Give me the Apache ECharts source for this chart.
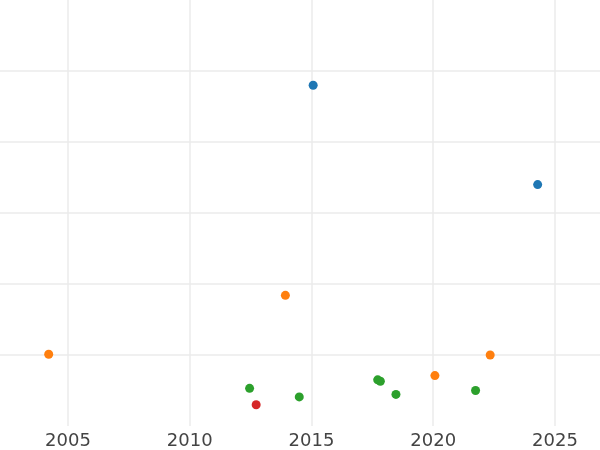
<!DOCTYPE html>
<html>
<head>
<meta charset="utf-8">
<script src="https://cdn.jsdelivr.net/npm/echarts@6/dist/echarts.min.js"></script>
<style>html,body{margin:0;padding:0;background:#fff}#c{width:600px;height:450px}</style>
</head>
<body>
<div id="c"></div>
<script>
// Data: [year, value]
const blueX = [2015.07, 2024.29];
const blueY = [4.80, 3.40];
const orangeX = [2004.21, 2013.93, 2020.07, 2022.34];
const orangeY = [1.01, 1.84, 0.71, 1.00];
const greenX = [2012.46, 2014.50, 2017.72, 2017.83, 2018.47, 2021.74];
const greenY = [0.53, 0.41, 0.65, 0.63, 0.445, 0.50];
const redX = [2012.73];
const redY = [0.30];
const colors = ['#1f77b4', '#ff7f0e', '#2ca02c', '#d62728'];

function pairs(xs, ys) { return xs.map((x, i) => [x, ys[i]]); }

const chart = echarts.init(document.getElementById('c'), null, {renderer: 'canvas'});
const gridLine = {show: true, lineStyle: {color: '#ebebeb', width: 1.5}, showMinLine: false, showMaxLine: false};
const seriesList = [
  pairs(blueX, blueY), pairs(orangeX, orangeY), pairs(greenX, greenY), pairs(redX, redY)
].map((d, i) => ({
  type: 'scatter', data: d, symbolSize: 9,
  itemStyle: {color: colors[i], opacity: 1},
  emphasis: {disabled: true}
}));
chart.setOption({
  animation: false,
  backgroundColor: '#fff',
  grid: {left: 0, right: 0, top: 0, bottom: 23, containLabel: false},
  xAxis: {
    type: 'value', min: 2002.21, max: 2026.85, splitNumber: 5, minInterval: 5, maxInterval: 5,
    axisLine: {show: false}, axisTick: {show: false},
    axisLabel: {
      color: '#444', fontSize: 18, fontFamily: 'DejaVu Sans', margin: 6,
      showMinLabel: false, showMaxLabel: false,
      formatter: v => (Math.abs(v % 5) < 1e-6 ? String(Math.round(v)) : '')
    },
    splitLine: gridLine
  },
  yAxis: {
    type: 'value', min: 0, max: 6, interval: 1,
    axisLine: {show: false}, axisTick: {show: false}, axisLabel: {show: false},
    splitLine: gridLine
  },
  series: seriesList
});
</script>
</body>
</html>
